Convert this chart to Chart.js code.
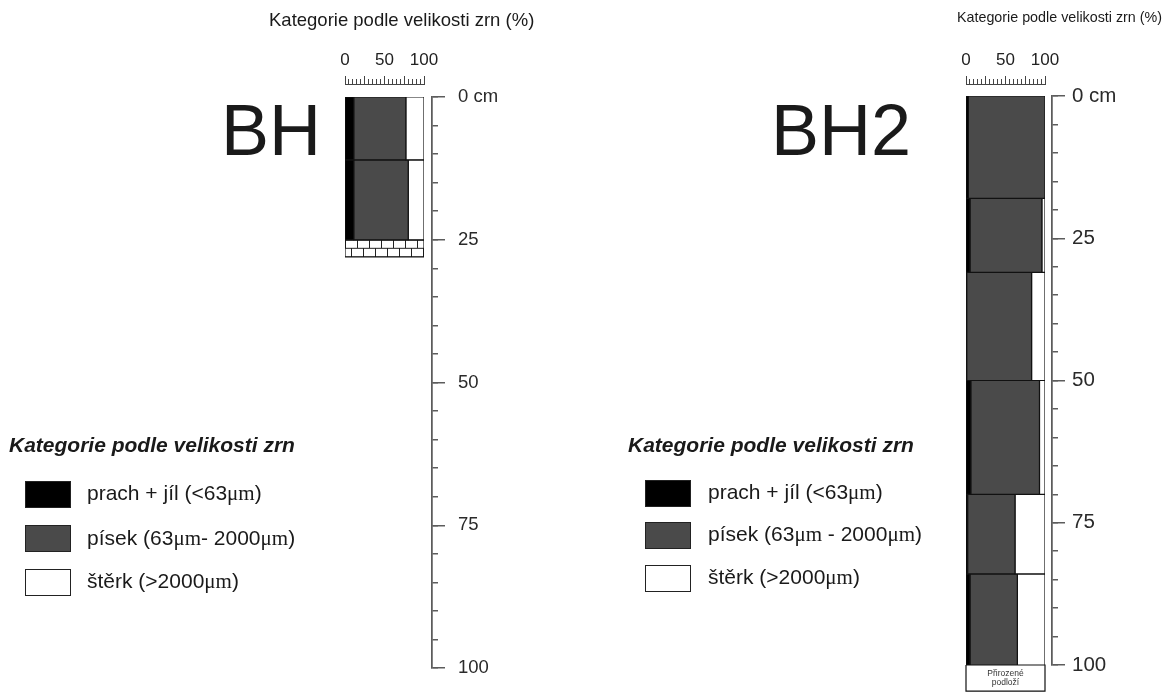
<!DOCTYPE html>
<html>
<head>
<meta charset="utf-8">
<script src="https://cdn.jsdelivr.net/npm/chart.js@4.4.1/dist/chart.umd.min.js"></script>
<style>
  body { margin: 0; background: #fff; width: 1170px; height: 693px; position: relative; overflow: hidden;
         font-family: "Liberation Sans", Arial, sans-serif; color: #1a1a1a; }
  canvas { position: absolute; top: 0; }
  .t { position: absolute; white-space: nowrap; line-height: 1; }
  .mu { font-family: "Liberation Serif", "Times New Roman", serif; }
  .sw { position: absolute; width: 44px; height: 25px; border: 1px solid #222; box-sizing: content-box; }
  .lt { font-weight: bold; font-style: italic; font-size: 21px; }
  .li { font-size: 21px; }
</style>
</head>
<body>
<canvas id="bh" width="585" height="693" style="left:0"></canvas>
<canvas id="bh2" width="585" height="693" style="left:585px"></canvas>

<!-- titles and big labels -->
<div class="t" style="left:269px;top:11px;font-size:18.5px">Kategorie podle velikosti zrn (%)</div>
<div class="t" style="left:957px;top:10px;font-size:14.3px">Kategorie podle velikosti zrn (%)</div>
<div class="t" style="left:221px;top:94px;font-size:72px">BH</div>
<div class="t" style="left:771px;top:94px;font-size:72px">BH2</div>

<!-- legend BH -->
<div class="t lt" style="left:9px;top:434px">Kategorie podle velikosti zrn</div>
<div class="sw" style="left:25px;top:481px;background:#000"></div>
<div class="sw" style="left:25px;top:525px;background:#4a4a4a"></div>
<div class="sw" style="left:25px;top:569px;background:#fff"></div>
<div class="t li" style="left:87px;top:482px">prach + jíl (&lt;63<span class="mu">μm</span>)</div>
<div class="t li" style="left:87px;top:527px">písek (63<span class="mu">μm</span>- 2000<span class="mu">μm</span>)</div>
<div class="t li" style="left:87px;top:570px">štěrk (&gt;2000<span class="mu">μm</span>)</div>

<!-- legend BH2 -->
<div class="t lt" style="left:628px;top:434px">Kategorie podle velikosti zrn</div>
<div class="sw" style="left:645px;top:480px;background:#000"></div>
<div class="sw" style="left:645px;top:522px;background:#4a4a4a"></div>
<div class="sw" style="left:645px;top:565px;background:#fff"></div>
<div class="t li" style="left:708px;top:481px">prach + jíl (&lt;63<span class="mu">μm</span>)</div>
<div class="t li" style="left:708px;top:523px">písek (63<span class="mu">μm</span> - 2000<span class="mu">μm</span>)</div>
<div class="t li" style="left:708px;top:566px">štěrk (&gt;2000<span class="mu">μm</span>)</div>

<script>
// vrty - hloubky vrstev (cm) a podíly frakcí (%)
const bhTop = [0, 11];
const bhBottom = [11, 25];
const bhSilt = [11, 11];
const bhSand = [66, 69];
const bhGravel = [23, 20];
const bhBase = [25, 28]; // podloží (cihly)

const bh2Top = [0, 18, 31, 50, 70, 84];
const bh2Bottom = [18, 31, 50, 70, 84, 100];
const bh2Silt = [3, 5, 1, 6, 2, 5];
const bh2Sand = [97, 91, 82, 87, 60, 60];
const bh2Gravel = [0, 4, 17, 7, 38, 35];
const bh2Base = [100, 104.6]; // přirozené podloží
const bh2BaseText = ["Přirozené", "podloží"];

const depthLabels = [0, 25, 50, 75, 100];
const pctLabels = [0, 50, 100];

const COL_SILT = "#000000";
const COL_SAND = "#4a4a4a";
const COL_GRAVEL = "#ffffff";
const AXIS = "#5c5c5c";
const RULER = "#444";

function rect(x0, x1, y0, y1, color, extra) {
  return Object.assign({
    data: [{x: x0, y: y0}, {x: x1, y: y0}, {x: x1, y: y1}, {x: x0, y: y1}, {x: x0, y: y0}],
    backgroundColor: color,
    borderColor: "#111",
    borderWidth: 1.2,
    fill: "shape",
    pointRadius: 0,
    tension: 0
  }, extra || {});
}

function layers(top, bottom, silt, sand, gravel) {
  const out = [];
  for (let i = 0; i < top.length; i++) {
    const a = silt[i], b = silt[i] + sand[i], c = b + gravel[i];
    if (a > 0) out.push(rect(0, a, top[i], bottom[i], COL_SILT));
    if (sand[i] > 0) out.push(rect(a, b, top[i], bottom[i], COL_SAND));
    if (gravel[i] > 0) out.push(rect(b, c, top[i], bottom[i], COL_GRAVEL));
  }
  return out;
}

// vzor cihel pro podloží BH
function brickPattern() {
  const c = document.createElement("canvas");
  c.width = 24; c.height = 17;
  const g = c.getContext("2d");
  g.fillStyle = "#fff"; g.fillRect(0, 0, 24, 17);
  g.strokeStyle = "#222"; g.lineWidth = 1;
  g.beginPath();
  g.moveTo(0, 0.5); g.lineTo(24, 0.5);
  g.moveTo(0, 8.5); g.lineTo(24, 8.5);
  g.moveTo(0.5, 0); g.lineTo(0.5, 8.5);
  g.moveTo(12.5, 0); g.lineTo(12.5, 8.5);
  g.moveTo(6.5, 8.5); g.lineTo(6.5, 17);
  g.moveTo(18.5, 8.5); g.lineTo(18.5, 17);
  g.stroke();
  return g.createPattern(c, "repeat");
}
const bricks = brickPattern();

const basePlugin = {
  id: "basePlugin",
  beforeDatasetsDraw(chart, args, opts) {
    if (!opts.pattern) return;
    const {x, y} = chart.scales;
    opts.pattern.setTransform(new DOMMatrix().translate(x.getPixelForValue(0), y.getPixelForValue(opts.range[0])));
  },
  afterDatasetsDraw(chart, args, opts) {
    if (!opts.text) return;
    const {ctx} = chart;
    const {x, y} = chart.scales;
    const cx = (x.getPixelForValue(0) + x.getPixelForValue(100)) / 2;
    const cy = (y.getPixelForValue(opts.range[0]) + y.getPixelForValue(opts.range[1])) / 2;
    ctx.save();
    ctx.font = '8.5px "Liberation Sans"';
    ctx.fillStyle = "#333";
    ctx.textAlign = "center";
    ctx.textBaseline = "middle";
    opts.text.forEach((s, i) => ctx.fillText(s, cx, cy + (i - (opts.text.length - 1) / 2) * 9.5));
    ctx.restore();
  }
};

function scales(o) {
  return {
    xg: { type: "linear", position: "top", weight: 0, min: 0, max: 100,
      ticks: {display: false}, grid: {display: false}, border: {display: false},
      afterFit: s => { s.height = o.gapTop; } },
    x2: { type: "linear", position: "top", weight: 1, min: 0, max: 100,
      ticks: {display: false, stepSize: 5},
      grid: {drawOnChartArea: false, tickLength: 5, tickColor: RULER}, border: {color: RULER},
      afterFit: s => { s.height = 0; } },
    x: { type: "linear", position: "top", weight: 2, min: 0, max: 100,
      ticks: {stepSize: 25, autoSkip: false, maxRotation: 0, padding: 5, color: "#222",
        font: {family: "Liberation Sans", size: 17},
        callback: v => pctLabels.includes(v) ? String(v) : ""},
      grid: {drawOnChartArea: false, tickLength: 8, tickColor: RULER}, border: {color: RULER},
      afterFit: s => { s.height = 40; } },
    yg: { type: "linear", position: "right", weight: 0, min: 0, max: 100, reverse: true,
      ticks: {display: false}, grid: {display: false}, border: {display: false},
      afterFit: s => { s.width = o.gapRight; } },
    y2: { type: "linear", position: "right", weight: 1, min: 0, max: 100, reverse: true,
      ticks: {display: false, stepSize: 5},
      grid: {drawOnChartArea: false, tickLength: 6, tickColor: AXIS, lineWidth: 1.5}, border: {color: AXIS, width: 1.5},
      afterFit: s => { s.width = 0; } },
    y: { type: "linear", position: "right", weight: 2, min: 0, max: 100, reverse: true,
      ticks: {stepSize: 25, autoSkip: false, padding: o.labelPad, color: "#2a2a2a",
        font: {family: "Liberation Sans", size: o.labelSize},
        callback: v => depthLabels.includes(v) ? (v === 0 ? "0 cm" : String(v)) : ""},
      grid: {drawOnChartArea: false, tickLength: 13, tickColor: AXIS, lineWidth: 1.5}, border: {color: AXIS, width: 1.5},
      afterFit: s => { s.width = 70; } }
  };
}

function makeChart(id, datasets, o, baseOpts) {
  return new Chart(document.getElementById(id), {
    type: "line",
    data: {datasets},
    options: {
      responsive: false,
      animation: false,
      devicePixelRatio: 1,
      events: [],
      layout: {padding: o.padding},
      plugins: {legend: {display: false}, tooltip: {enabled: false}, basePlugin: baseOpts},
      scales: scales(o)
    },
    plugins: [basePlugin]
  });
}

// BH
const bhSets = layers(bhTop, bhBottom, bhSilt, bhSand, bhGravel);
bhSets.push(rect(0, 100, bhBase[0], bhBase[1], bricks));
makeChart("bh", bhSets,
  {padding: {left: 345, top: 44, right: 83, bottom: 25}, gapTop: 13, gapRight: 8, labelPad: 13, labelSize: 18.5},
  {pattern: bricks, range: bhBase});

// BH2
const bh2Sets = layers(bh2Top, bh2Bottom, bh2Silt, bh2Sand, bh2Gravel);
bh2Sets.push(rect(0, 100, bh2Base[0], bh2Base[1], COL_GRAVEL, {clip: false}));
makeChart("bh2", bh2Sets,
  {padding: {left: 381, top: 44, right: 48, bottom: 28}, gapTop: 12, gapRight: 7, labelPad: 7, labelSize: 20.5},
  {text: bh2BaseText, range: bh2Base});
</script>
</body>
</html>
